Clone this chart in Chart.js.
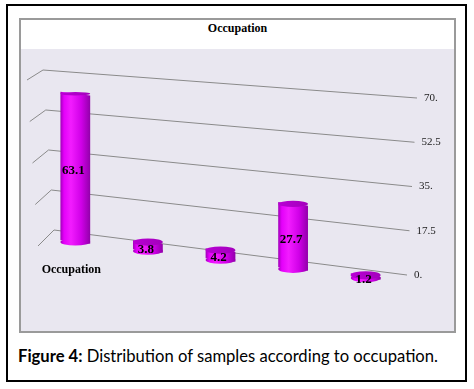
<!DOCTYPE html>
<html>
<head>
<meta charset="utf-8">
<script src="https://cdn.jsdelivr.net/npm/chart.js@4.4.1/dist/chart.umd.min.js"></script>
<style>
  body { margin: 0; width: 474px; height: 389px; background: #fff; position: relative; overflow: hidden; }
  #frame { position: absolute; left: 6px; top: 4px; width: 457px; height: 374px; border: 2px solid #000; }
  #box { position: absolute; left: 19px; top: 18px; width: 433px; height: 311px; border: 2px solid #9a9a9a;
         background: linear-gradient(#fff 0 29px, #e9e7f0 29px); }
  #title { position: absolute; left: 19px; top: 21px; width: 437px; text-align: center;
           font: bold 12px "Liberation Serif"; color: #000; }
  #caption { position: absolute; left: 18px; top: 346px; font: 16.6px Lato; color: #000; white-space: nowrap; }
  canvas { position: absolute; left: 0; top: 0; }
</style>
</head>
<body>
<div id="frame"></div>
<div id="box"></div>
<div id="title">Occupation</div>
<div id="caption"><b>Figure 4:</b> Distribution of samples according to occupation.</div>
<canvas id="occupationChart" width="474" height="389"></canvas>
<script>
const categories = ["Occupation", "", "", "", ""];
const values = [63.1, 3.8, 4.2, 27.7, 1.2];
const yTicks = [0, 17.5, 35, 52.5, 70];

// 3D look: bars sit on a floor that slopes down to the right
const SHEAR = 0.124;
const BAR_PCT = 0.41;

function tickText(v) {
  return Number.isInteger(v) ? v + "." : String(v);
}

function barGradient(ctx, cx, half) {
  const g = ctx.createLinearGradient(cx - half, 0, cx + half, 0);
  g.addColorStop(0, "#a000b8");
  g.addColorStop(0.12, "#e400fa");
  g.addColorStop(0.35, "#f21cff");
  g.addColorStop(0.7, "#d000e8");
  g.addColorStop(1, "#9200aa");
  return g;
}

const wallPlugin = {
  id: "wall",
  beforeDatasetsDraw(chart) {
    const { ctx, chartArea, scales } = chart;
    const y = scales.y;

    ctx.save();
    ctx.strokeStyle = "#8a8a8a";
    ctx.lineWidth = 1;
    ctx.fillStyle = "#222";
    ctx.font = '11px "Liberation Serif"';
    ctx.textBaseline = "middle";
    ctx.textAlign = "left";
    yTicks.forEach(v => {
      const f = (y.bottom - y.getPixelForValue(v)) / (y.bottom - y.top);
      const xl = chartArea.left + 15 - 11 * f;
      const yl = chartArea.bottom - 7.5 - 160 * f;
      const xr = chartArea.right + 5 + 10 * f;
      const yr = chartArea.bottom + 37.5 - 177 * f;
      ctx.beginPath();
      ctx.moveTo(xl - 16, yl + 16 - 6 * f);
      ctx.lineTo(xl, yl);
      ctx.lineTo(xr, yr);
      ctx.stroke();
      ctx.fillText(tickText(v), xr + 7, yr);
    });
    ctx.restore();

    // shear the bar bodies onto the sloping floor
    ctx.save();
    ctx.transform(1, SHEAR, 0, 1, 0, -SHEAR * chartArea.left);
  },
  afterDatasetsDraw(chart) {
    const { ctx, chartArea } = chart;
    ctx.restore();

    const meta = chart.getDatasetMeta(0);
    ctx.save();
    meta.data.forEach((bar, i) => {
      const dy = SHEAR * (bar.x - chartArea.left);
      const half = bar.width / 2;
      const top = bar.y + dy;
      const base = bar.base + dy;
      const ryTop = 1.5 + (top - 80) * 0.013;
      const ryBase = 1.5 + (base - 80) * 0.013;

      ctx.fillStyle = barGradient(ctx, bar.x, half);
      ctx.beginPath();
      ctx.ellipse(bar.x, base, half, ryBase, 0, 0, Math.PI * 2);
      ctx.fill();

      const tg = ctx.createLinearGradient(bar.x - half, 0, bar.x + half, 0);
      tg.addColorStop(0, "#b800d4");
      tg.addColorStop(1, "#a400bc");
      ctx.fillStyle = tg;
      ctx.beginPath();
      ctx.ellipse(bar.x, top, half, ryTop, 0, 0, Math.PI * 2);
      ctx.fill();

      ctx.fillStyle = "#000";
      ctx.font = 'bold 13px "Liberation Serif"';
      ctx.textAlign = "center";
      ctx.textBaseline = "middle";
      ctx.fillText(values[i].toFixed(1), bar.x - 2, (top + base) / 2 + 3);

      if (categories[i]) {
        ctx.font = 'bold 12px "Liberation Serif"';
        ctx.fillText(categories[i], bar.x - 4, base + 28);
      }
    });
    ctx.restore();
  }
};

new Chart(document.getElementById("occupationChart"), {
  type: "bar",
  data: {
    labels: categories,
    datasets: [{
      label: "Occupation",
      data: values,
      borderWidth: 0,
      barPercentage: BAR_PCT,
      categoryPercentage: 1,
      clip: false,
      backgroundColor(c) {
        const x = c.chart.scales.x;
        if (!x || c.dataIndex === undefined) return "#e400fa";
        const cx = x.getPixelForValue(c.dataIndex);
        const half = (x.width / categories.length) * BAR_PCT / 2;
        if (!Number.isFinite(cx) || !Number.isFinite(half) || half <= 0) return "#e400fa";
        return barGradient(c.chart.ctx, cx, half);
      }
    }]
  },
  options: {
    responsive: false,
    animation: false,
    layout: { padding: { left: 39, right: 72, top: 73, bottom: 151.5 } },
    scales: {
      x: { display: false },
      y: { display: false, min: 0, max: 70, ticks: { stepSize: 17.5 } }
    },
    plugins: {
      legend: { display: false },
      title: { display: false },
      tooltip: { enabled: false }
    }
  },
  plugins: [wallPlugin]
});
</script>
</body>
</html>
